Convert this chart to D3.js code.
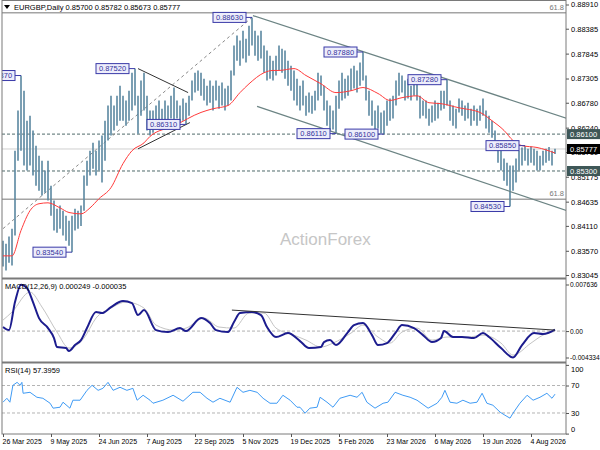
<!DOCTYPE html>
<html>
<head>
<meta charset="utf-8">
<script src="https://cdn.jsdelivr.net/npm/d3@7"></script>
<style>
  body { margin: 0; background: #fff; }
  text { font-family: "Liberation Sans", Arial, sans-serif; }
</style>
</head>
<body>
<div class="chart"></div>
<script>
//-----------------------------------------
// data (one bar = 2 sessions)
//-----------------------------------------
var barHigh = [
  0.8379,0.8372,0.8388,0.8405,0.8574,0.8661,0.8737,0.8704,0.8639,0.8650,
  0.8618,0.8585,0.8563,0.8552,0.8531,0.8552,0.8498,0.8466,0.8448,0.8455,
  0.8444,0.8433,0.8422,0.8433,0.8448,0.8444,0.8455,0.8520,0.8552,0.8574,
  0.8591,0.8574,0.8596,0.8607,0.8639,0.8672,0.8693,0.8672,0.8693,0.8715,
  0.8693,0.8683,0.8704,0.8743,0.8752,0.8693,0.8726,0.8743,0.8693,0.8661,
  0.8661,0.8672,0.8683,0.8665,0.8683,0.8672,0.8693,0.8711,0.8683,0.8672,
  0.8687,0.8678,0.8693,0.8726,0.8743,0.8748,0.8743,0.8730,0.8715,0.8726,
  0.8715,0.8726,0.8715,0.8722,0.8709,0.8715,0.8748,0.8802,0.8824,0.8813,
  0.8834,0.8817,0.8845,0.8863,0.8834,0.8824,0.8834,0.8802,0.8791,0.8780,
  0.8769,0.8780,0.8802,0.8795,0.8791,0.8769,0.8758,0.8748,0.8730,0.8715,
  0.8726,0.8693,0.8700,0.8693,0.8704,0.8743,0.8737,0.8715,0.8683,0.8672,
  0.8661,0.8693,0.8726,0.8743,0.8730,0.8737,0.8752,0.8758,0.8748,0.8765,
  0.8788,0.8737,0.8704,0.8683,0.8661,0.8672,0.8657,0.8661,0.8683,0.8687,
  0.8693,0.8726,0.8743,0.8737,0.8726,0.8730,0.8715,0.8730,0.8722,0.8693,
  0.8683,0.8683,0.8665,0.8672,0.8683,0.8678,0.8704,0.8704,0.8728,0.8683,
  0.8672,0.8665,0.8687,0.8683,0.8672,0.8678,0.8665,0.8672,0.8665,0.8672,
  0.8687,0.8661,0.8650,0.8639,0.8618,0.8596,0.8574,0.8557,0.8548,0.8542,
  0.8542,0.8557,0.8574,0.8581,0.8585,0.8578,0.8583,0.8578,0.8574,0.8563,
  0.8574,0.8578,0.8582,0.8574,0.8578
];
var barLow = [
  0.8323,0.8314,0.8331,0.8325,0.8390,0.8552,0.8574,0.8542,0.8531,0.8542,
  0.8520,0.8498,0.8487,0.8477,0.8483,0.8466,0.8433,0.8401,0.8396,0.8405,
  0.8390,0.8379,0.8368,0.8354,0.8401,0.8405,0.8411,0.8444,0.8498,0.8520,
  0.8535,0.8520,0.8531,0.8505,0.8552,0.8596,0.8607,0.8618,0.8628,0.8639,
  0.8639,0.8628,0.8639,0.8661,0.8672,0.8611,0.8650,0.8661,0.8618,0.8607,
  0.8613,0.8628,0.8635,0.8628,0.8639,0.8635,0.8644,0.8639,0.8644,0.8635,
  0.8639,0.8631,0.8650,0.8683,0.8700,0.8704,0.8693,0.8683,0.8672,0.8678,
  0.8661,0.8683,0.8665,0.8672,0.8661,0.8672,0.8683,0.8737,0.8769,0.8758,
  0.8774,0.8765,0.8780,0.8802,0.8780,0.8769,0.8774,0.8743,0.8726,0.8730,
  0.8726,0.8737,0.8748,0.8743,0.8730,0.8715,0.8704,0.8683,0.8672,0.8661,
  0.8672,0.8650,0.8657,0.8654,0.8661,0.8683,0.8693,0.8661,0.8628,0.8618,
  0.8620,0.8611,0.8665,0.8683,0.8687,0.8693,0.8704,0.8709,0.8700,0.8715,
  0.8726,0.8683,0.8650,0.8628,0.8618,0.8622,0.8611,0.8610,0.8628,0.8639,
  0.8644,0.8672,0.8693,0.8700,0.8683,0.8687,0.8683,0.8693,0.8683,0.8644,
  0.8650,0.8644,0.8628,0.8635,0.8639,0.8644,0.8661,0.8665,0.8672,0.8639,
  0.8628,0.8622,0.8657,0.8650,0.8639,0.8644,0.8628,0.8639,0.8628,0.8639,
  0.8650,0.8622,0.8613,0.8602,0.8574,0.8548,0.8531,0.8509,0.8498,0.8453,
  0.8487,0.8505,0.8531,0.8542,0.8552,0.8542,0.8548,0.8542,0.8531,0.8531,
  0.8542,0.8548,0.8552,0.8542,0.8567
];

// red moving average
var maIdx = [0,3,6,9,12,15,19,22,26,29, 32,36,40,43,47,49,57,66,70,75,
             79,82,87,90,92,97,101,106,111,116, 120,125,129,133,138,142,146,152,159,163,
             167,170,173,178,184];
var maVal = [0.8346,0.8346,0.8401,0.8444,0.8459,0.8461,0.8450,0.8440,0.8437,0.8450,
             0.8470,0.8494,0.8546,0.8574,0.8591,0.8605,0.8628,0.8657,0.8665,0.8672,
             0.8700,0.8719,0.8743,0.8748,0.8748,0.8752,0.8737,0.8719,0.8700,0.8704,
             0.8711,0.8698,0.8683,0.8689,0.8693,0.8678,0.8676,0.8667,0.8657,0.8639,
             0.8618,0.8596,0.8585,0.8581,0.8569];

// MACD(12,26,9)
var macdIdx = [0,2,4,6,8,10,12,15,17,18, 21,22,24,26,28,31,33,36,40,43,
               45,47,51,55,59,61,66,69,71,75, 77,79,83,86,88,91,95,99,102,106,
               107,109,111,115,117,120,123,125,128,131, 133,137,140,143,146,147,150,153,157,160,
               162,166,170,173,177,180,184];
var macdMain = [0.00066,0.00016,0.00476,0.0076,0.00705,0.00476,0.00213,0.00049,-0.00115,-0.00262,
                -0.00279,-0.00328,-0.0023,-0.00148,0.00049,0.00312,0.00295,0.00394,0.00492,0.00459,
                0.00262,0.00344,0.00016,-0.00016,0.00049,0.0,0.00213,0.00131,0.00016,-0.00016,
                0.00148,0.00295,0.00312,0.00262,0.00066,-0.00098,-0.00033,-0.00164,-0.00279,-0.00262,
                -0.0018,-0.00148,-0.0023,-0.00016,0.00098,0.00131,-0.00066,-0.0023,-0.00197,-0.00016,
                0.00098,0.00049,-0.00066,-0.0018,-0.00115,0.0,-0.00098,-0.00098,-0.00115,-0.00033,
                -0.00098,-0.00279,-0.00433,-0.0023,-0.00033,-0.00049,0.00025];
var sigIdx = [0,3,9,13,18,22,27,31,36,41, 47,51,57,61,67,72,77,82,87,91,
              97,101,106,110,116,120,125,129,133,138, 143,148,155,160,166,170,176,180,184];
var sigVal = [0.0018,0.00312,0.0064,0.00394,-0.00016,-0.00279,-0.00115,0.00213,0.00377,0.00476,
              0.00377,0.00098,0.00016,0.00049,0.00213,0.00066,0.00049,0.00295,0.00295,0.00049,
              -0.00066,-0.00148,-0.00262,-0.00197,-0.00033,0.00098,-0.00098,-0.00197,-0.00016,0.00049,
              -0.00148,-0.00098,-0.00098,-0.00066,-0.00197,-0.00394,-0.00197,-0.00066,-0.00004];

// RSI(14)
var rsiIdx = [0,1.3,2.3,3.3,4.7,5.7,6.3,6.7,9,11.3,
              13.3,15.7,16.7,19,20,22.3,23.3,25.7,28,29.7,
              31.7,33.3,35,36.7,39,41.3,43.3,44.7,46.7,49,
              50,53.3,56.7,60,63.3,65.7,68,70,72.3,75.7,
              78,80,82.3,84.7,86.7,89,91.3,93.3,95.7,98,
              99,100.7,102.3,104.7,105.7,108,110,112.3,115.7,118,
              119.7,121.3,124,126.7,128.3,130.7,133.3,135.7,138,141.7,
              144.7,146.3,147.3,149,151.3,153.3,155.7,158,159.7,161.3,
              163.3,165.7,167.3,169,170,172.3,174.7,176.7,179,181.3,
              183,184];
var rsiVal = [45.7,51.4,45.7,70.3,74.6,70.3,74.6,58.7,60.1,52.9,
              51.4,44.2,37.0,38.4,45.7,37.0,48.6,48.6,63.0,70.3,
              63.0,65.9,74.6,63.0,67.4,63.0,65.9,48.6,55.8,48.6,
              44.2,48.6,55.8,47.1,60.1,60.1,51.4,45.7,51.4,45.7,
              67.4,60.1,63.0,60.1,51.4,44.2,44.2,55.8,48.6,38.4,
              38.4,29.7,37.0,38.4,52.9,45.7,38.4,51.4,55.8,52.9,
              60.1,45.7,37.0,44.2,45.7,60.1,55.8,52.9,48.6,37.0,
              44.2,52.9,63.0,45.7,44.2,48.6,44.2,45.7,58.7,44.2,
              41.3,31.2,26.8,22.5,29.7,44.2,55.8,48.6,52.9,58.7,
              51.4,57.4];

// swing labels
var swingText  = ["0.87370","0.87520","0.86310","0.88630","0.86110","0.86100","0.87880","0.87280","0.85850","0.84530","0.83540"];
var swingIdx   = [6,44,61,83,111,127,120,148,174,169,23];
var swingPrice = [0.8737,0.8752,0.8631,0.8863,0.8611,0.8610,0.8788,0.8728,0.8585,0.8453,0.8354];

// trendlines [idx1, price1, idx2, price2]
var trendSolid = [[45,0.8752,61.7,0.8700],[45,0.8578,62.3,0.8635]];
var channelLines = [[83.3,0.8867,188,0.8644],[84.7,0.8670,188,0.8444]];
var trendDashed = [0,0.8405,83,0.8863];
var fibLevels = [0.8873,0.8469];
var dashedLevels = [0.8610,0.8530];
var lastPrice = 0.85777;
var macdTrend = [76.3,0.00344,184,0.00016];

// axes labels
var priceTicks = [0.88910,0.88385,0.87845,0.87305,0.86780,0.86240,0.85710,0.85175,0.84635,0.84110,0.83570,0.83045];
var macdTicks = [0.007636,0,-0.004334];
var macdTickLabels = ["0.007636","0.00","-0.004334"];
var rsiTicks = [100,70,30,0];
var dateIdx = [0,16,32,48,64,80,96,112,128,144,160,176];
var dateLabels = ["26 Mar 2025","9 May 2025","24 Jun 2025","7 Aug 2025","22 Sep 2025","5 Nov 2025",
                  "19 Dec 2025","5 Feb 2026","23 Mar 2026","6 May 2026","19 Jun 2026","4 Aug 2026"];

//-----------------------------------------
// layout
//-----------------------------------------
var W = 600, H = 450;
var left = 2, right = 566;
var mainTop = 0, mainBot = 278, macdTop = 279, macdBot = 362, rsiTop = 363, rsiBot = 434;
var fs = 7.5;

var svg = d3.select(".chart").append("svg")
    .attr("width", W).attr("height", H);

var x = d3.scaleLinear().domain([0, 184]).range([3, 555]);
var yMain = d3.scaleLinear().domain([0.83045, 0.88910]).range([275, 4.5]);
var yMacd = d3.scaleLinear().domain([-0.004334, 0.007636]).range([357.5, 284.5]);
var yRsi = d3.scaleLinear().domain([0, 100]).range([433.6, 364.9]);

var defs = svg.append("defs");
function clip(id, y0, y1) {
    defs.append("clipPath").attr("id", id).append("rect")
        .attr("x", left).attr("y", y0).attr("width", right - left).attr("height", y1 - y0);
}
clip("cMain", mainTop, mainBot);
clip("cMacd", macdTop, macdBot);
clip("cRsi", rsiTop, rsiBot);

//-----------------------------------------
// main panel
//-----------------------------------------
var main = svg.append("g").attr("clip-path", "url(#cMain)");

// watermark
main.append("text").attr("x", 280).attr("y", 245)
    .style("font-size", "17px").attr("fill", "#c6c6c6").text("ActionForex");

// fibonacci lines
fibLevels.forEach(function(p) {
    main.append("line").attr("x1", left).attr("x2", right)
        .attr("y1", yMain(p)).attr("y2", yMain(p))
        .attr("stroke", "#a4a4a4").attr("stroke-width", 1.5);
    main.append("text").attr("x", right - 2).attr("y", yMain(p) - 3)
        .attr("text-anchor", "end").style("font-size", fs + "px").attr("fill", "#777").text("61.8");
});

// last price line
main.append("line").attr("x1", left).attr("x2", right)
    .attr("y1", yMain(lastPrice)).attr("y2", yMain(lastPrice))
    .attr("stroke", "#cfcfcf").attr("stroke-width", 1);

// dashed support/resistance
dashedLevels.forEach(function(p) {
    main.append("line").attr("x1", left).attr("x2", right)
        .attr("y1", yMain(p)).attr("y2", yMain(p))
        .attr("stroke", "#4f6a6a").attr("stroke-width", 1).attr("stroke-dasharray", "3,2");
});

// dashed rising trendline
main.append("line")
    .attr("x1", x(trendDashed[0])).attr("y1", yMain(trendDashed[1]))
    .attr("x2", x(trendDashed[2])).attr("y2", yMain(trendDashed[3]))
    .attr("stroke", "#888").attr("stroke-width", 1).attr("stroke-dasharray", "3,3");

// OHLC bars
main.selectAll(".bar").data(barHigh).enter().append("line")
    .attr("class", "bar")
    .attr("x1", function(d, i) { return x(i); })
    .attr("x2", function(d, i) { return x(i); })
    .attr("y1", function(d) { return yMain(d); })
    .attr("y2", function(d, i) { return yMain(barLow[i]); })
    .attr("stroke", "#5a87a0").attr("stroke-width", 1.6);

// moving average
var maLine = d3.line()
    .x(function(d, i) { return x(maIdx[i]); })
    .y(function(d) { return yMain(d); })
    .curve(d3.curveMonotoneX);
main.append("path").attr("d", maLine(maVal))
    .attr("fill", "none").attr("stroke", "#ff3b3b").attr("stroke-width", 1);

// channel lines
channelLines.forEach(function(t) {
    main.append("line").attr("x1", x(t[0])).attr("y1", yMain(t[1]))
        .attr("x2", x(t[2])).attr("y2", yMain(t[3]))
        .attr("stroke", "#6c8484").attr("stroke-width", 1.2);
});
// triangle lines
trendSolid.forEach(function(t) {
    main.append("line").attr("x1", x(t[0])).attr("y1", yMain(t[1]))
        .attr("x2", x(t[2])).attr("y2", yMain(t[3]))
        .attr("stroke", "#333").attr("stroke-width", 1);
});

// swing labels
swingText.forEach(function(t, k) {
    var bx = x(swingIdx[k]);
    var by = yMain(swingPrice[k]);
    var bw = 33, bh = 10;
    main.append("line").attr("x1", bx - 6).attr("x2", bx).attr("y1", by).attr("y2", by)
        .attr("stroke", "#3a3aa8").attr("stroke-width", 1);
    main.append("rect").attr("x", bx - 6 - bw).attr("y", by - bh / 2)
        .attr("width", bw).attr("height", bh)
        .attr("fill", "#ededfb").attr("stroke", "#3a3aa8").attr("stroke-width", 1);
    main.append("text").attr("x", bx - 6 - bw / 2).attr("y", by + 2.8)
        .attr("text-anchor", "middle").style("font-size", fs + "px")
        .attr("fill", "#33339c").text(t);
});

//-----------------------------------------
// MACD panel
//-----------------------------------------
var macdG = svg.append("g").attr("clip-path", "url(#cMacd)");
macdG.append("line").attr("x1", left).attr("x2", right)
    .attr("y1", yMacd(0)).attr("y2", yMacd(0))
    .attr("stroke", "#b0b0b0").attr("stroke-dasharray", "3,2");

var sigLine = d3.line()
    .x(function(d, i) { return x(sigIdx[i]); })
    .y(function(d) { return yMacd(d); })
    .curve(d3.curveMonotoneX);
macdG.append("path").attr("d", sigLine(sigVal))
    .attr("fill", "none").attr("stroke", "#c4c4c4").attr("stroke-width", 1);

var mainLine = d3.line()
    .x(function(d, i) { return x(macdIdx[i]); })
    .y(function(d) { return yMacd(d); })
    .curve(d3.curveMonotoneX);
macdG.append("path").attr("d", mainLine(macdMain))
    .attr("fill", "none").attr("stroke", "#1c1c8e").attr("stroke-width", 2);

macdG.append("line").attr("x1", x(macdTrend[0])).attr("y1", yMacd(macdTrend[1]))
    .attr("x2", x(macdTrend[2])).attr("y2", yMacd(macdTrend[3]))
    .attr("stroke", "#333").attr("stroke-width", 1);

svg.append("text").attr("x", 5).attr("y", 289).style("font-size", fs + "px")
    .text("MACD(12,26,9) 0.000249 -0.000035");

//-----------------------------------------
// RSI panel
//-----------------------------------------
var rsiG = svg.append("g").attr("clip-path", "url(#cRsi)");
[70, 30].forEach(function(v) {
    rsiG.append("line").attr("x1", left).attr("x2", right)
        .attr("y1", yRsi(v)).attr("y2", yRsi(v))
        .attr("stroke", "#b4b4b4").attr("stroke-dasharray", "3,2");
});
var rsiLine = d3.line()
    .x(function(d, i) { return x(rsiIdx[i]); })
    .y(function(d) { return yRsi(d); });
rsiG.append("path").attr("d", rsiLine(rsiVal))
    .attr("fill", "none").attr("stroke", "#3f9bf5").attr("stroke-width", 1);

svg.append("text").attr("x", 5).attr("y", 373).style("font-size", fs + "px")
    .text("RSI(14) 57.3959");

//-----------------------------------------
// frames
//-----------------------------------------
svg.append("rect").attr("x", left).attr("y", 0.5).attr("width", right - left).attr("height", rsiBot - 0.5)
    .attr("fill", "none").attr("stroke", "#7a7a7a").attr("stroke-width", 1);
[mainBot + 0.5, macdBot + 0.5].forEach(function(yy) {
    svg.append("line").attr("x1", left).attr("x2", right).attr("y1", yy).attr("y2", yy)
        .attr("stroke", "#7a7a7a").attr("stroke-width", 2);
});

// title
svg.append("path").attr("d", "M4,5 L10,5 L7,9 Z").attr("fill", "#000");
svg.append("text").attr("x", 14).attr("y", 10).style("font-size", fs + "px")
    .text("EURGBP,Daily  0.85700 0.85782 0.85673 0.85777");

//-----------------------------------------
// axes
//-----------------------------------------
function styleAxis(size) {
    return function(g) {
        g.select(".domain").remove();
        g.selectAll("line").attr("stroke", "#555");
        g.selectAll("text").style("font-size", size + "px").attr("fill", "#000")
            .style("font-family", "'Liberation Sans', Arial, sans-serif");
    };
}

svg.append("g").attr("transform", "translate(" + right + ",0)")
    .call(d3.axisRight(yMain).tickValues(priceTicks).tickSize(3).tickPadding(2)
        .tickFormat(d3.format(".5f")))
    .call(styleAxis(fs));

svg.append("g").attr("transform", "translate(" + right + ",0)")
    .call(d3.axisRight(yMacd).tickValues(macdTicks).tickSize(3).tickPadding(1)
        .tickFormat(function(d, i) { return macdTickLabels[i]; }))
    .call(styleAxis(6.6));

var rsiAxis = svg.append("g").attr("transform", "translate(" + right + ",0)")
    .call(d3.axisRight(yRsi).tickValues(rsiTicks).tickSize(3).tickPadding(2))
    .call(styleAxis(fs));
rsiAxis.selectAll(".tick text").attr("dy", function(d) {
    return d === 100 ? "0.9em" : (d === 0 ? "-0.3em" : "0.32em");
});

var xAxis = svg.append("g").attr("transform", "translate(0," + rsiBot + ")")
    .call(d3.axisBottom(x).tickValues(dateIdx).tickSize(3).tickPadding(2)
        .tickFormat(function(d, i) { return dateLabels[i]; }))
    .call(styleAxis(7));
xAxis.selectAll(".tick text").attr("text-anchor", "start").attr("x", -1);

// right-side price boxes
var priceBoxes = [[0.8610, "#3e5757", "0.86100"], [lastPrice, "#000", "0.85777"], [0.8530, "#3e5757", "0.85300"]];
priceBoxes.forEach(function(b) {
    var yy = yMain(b[0]);
    svg.append("rect").attr("x", right + 1).attr("y", yy - 5).attr("width", W - right - 1).attr("height", 10)
        .attr("fill", b[1]);
    svg.append("text").attr("x", right + 4).attr("y", yy + 3).style("font-size", fs + "px")
        .attr("fill", "#fff").text(b[2]);
});
</script>
</body>
</html>
